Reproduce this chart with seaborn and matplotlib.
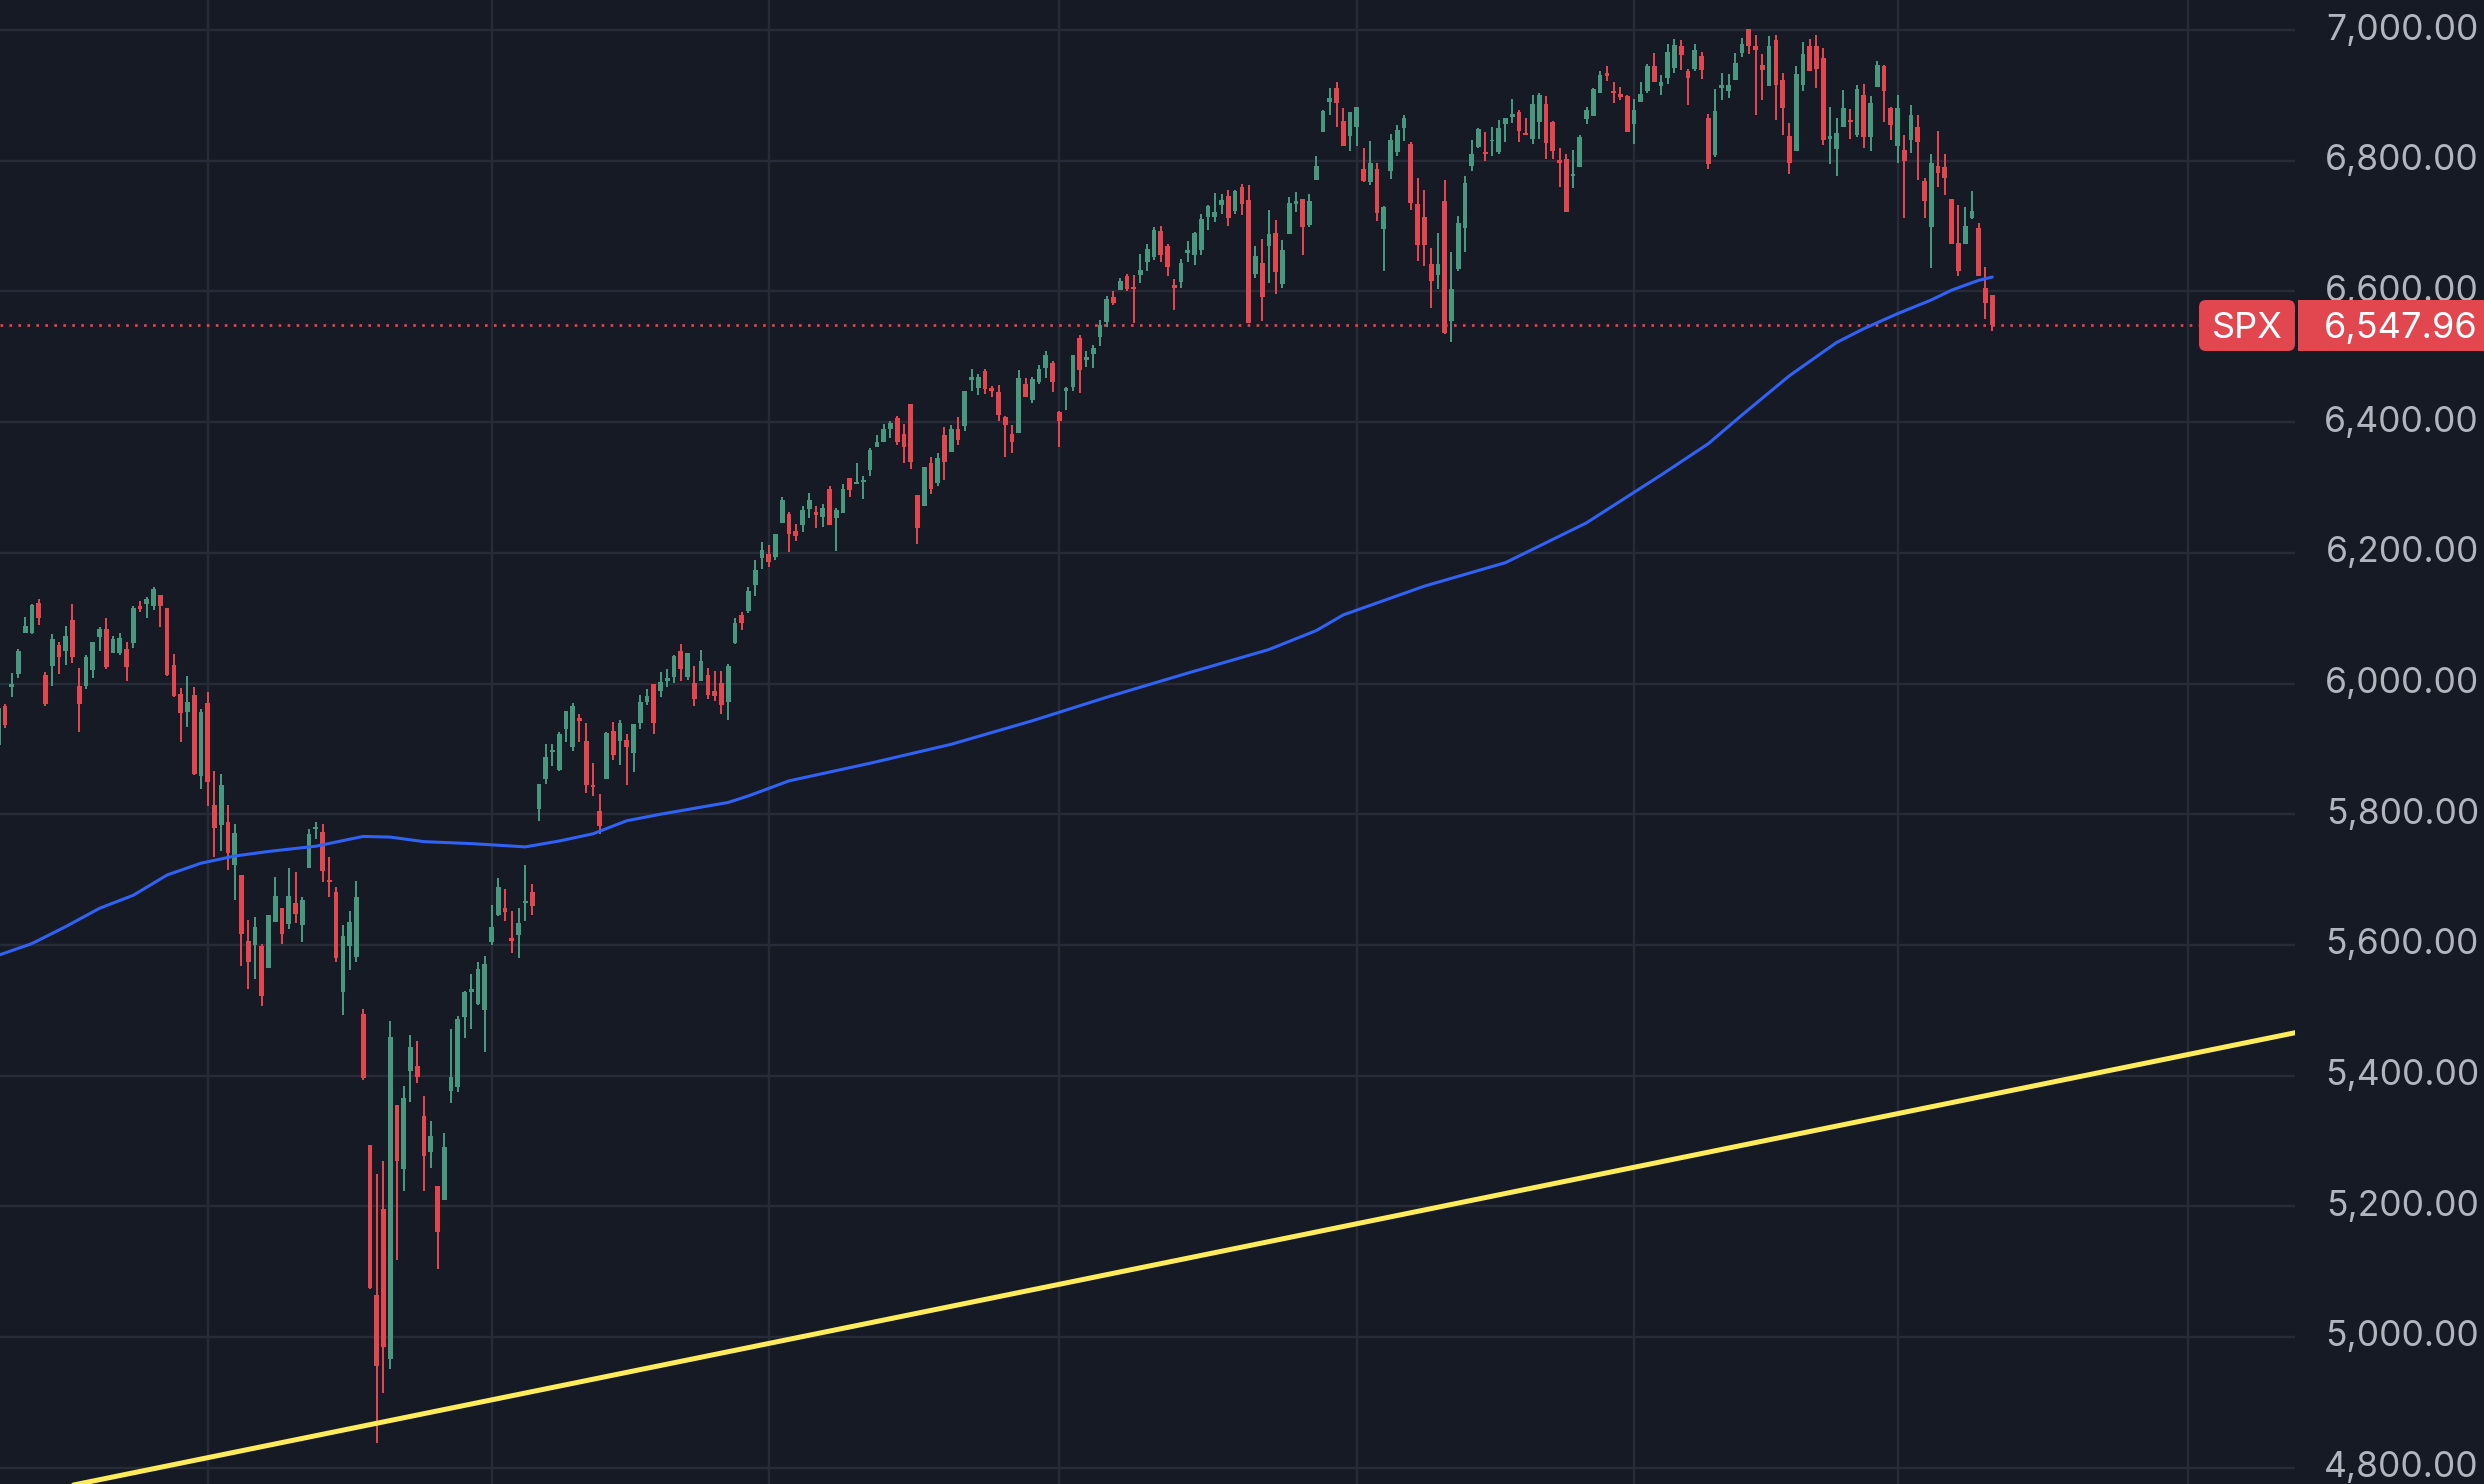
import numpy as np
import pandas as pd
import matplotlib
matplotlib.use("Agg")
import matplotlib.pyplot as plt
from matplotlib.patches import FancyBboxPatch, Rectangle
from matplotlib.transforms import IdentityTransform
from matplotlib.ticker import FuncFormatter
import seaborn as sns

#
# SPX daily candles, mid Jan 2025 -> Mar 20 2026
#

opens = [5906, 5966, 5995, 6015, 6078, 6077, 6123, 6013, 6027, 6059,
         6050, 6097, 5996, 5996, 6021, 6071, 6084, 6047, 6047, 6053,
         6062, 6119, 6122, 6118, 6135, 6115, 6028, 5984, 5957, 5982,
         5859, 5970, 5814, 5784, 5788, 5722, 5707, 5606, 5600, 5598,
         5565, 5635, 5656, 5632, 5664, 5630, 5717, 5777, 5773, 5699,
         5681, 5528, 5598, 5582, 5495, 5294, 5064, 5196, 4966, 5355,
         5257, 5407, 5415, 5338, 5283, 5231, 5209, 5377, 5382, 5490,
         5528, 5509, 5500, 5604, 5646, 5657, 5610, 5615, 5664, 5681,
         5808, 5854, 5895, 5868, 5930, 5903, 5947, 5912, 5845, 5805,
         5854, 5927, 5912, 5913, 5893, 5939, 5971, 6000, 5988, 6004,
         6010, 6050, 6010, 6001, 6004, 6013, 5989, 6001, 5971, 6062,
         6105, 6111, 6151, 6192, 6198, 6194, 6246, 6259, 6233, 6242,
         6267, 6263, 6255, 6297, 6254, 6261, 6314, 6305, 6309, 6327,
         6362, 6370, 6389, 6407, 6382, 6428, 6288, 6272, 6338, 6307,
         6380, 6355, 6390, 6394, 6464, 6452, 6479, 6452, 6446, 6408,
         6382, 6384, 6458, 6434, 6462, 6483, 6491, 6416, 6447, 6454,
         6529, 6495, 6504, 6531, 6554, 6592, 6602, 6624, 6607, 6625,
         6645, 6652, 6692, 6669, 6610, 6615, 6659, 6656, 6663, 6714,
         6714, 6732, 6746, 6723, 6760, 6740, 6627, 6644, 6670, 6689,
         6611, 6688, 6734, 6741, 6701, 6770, 6844, 6890, 6911, 6861,
         6838, 6851, 6788, 6768, 6787, 6695, 6785, 6814, 6850, 6826,
         6734, 6714, 6642, 6625, 6739, 6555, 6634, 6697, 6792, 6821,
         6813, 6830, 6813, 6857, 6867, 6875, 6842, 6833, 6860, 6887,
         6860, 6801, 6802, 6776, 6791, 6864, 6869, 6904, 6935, 6907,
         6902, 6899, 6857, 6890, 6906, 6945, 6915, 6927, 6942, 6976,
         6937, 6941, 6960, 6866, 6809, 6912, 6907, 6923, 6965, 7002,
         6976, 6947, 6915, 6985, 6924, 6838, 6815, 6916, 6975, 6976,
         6958, 6833, 6818, 6852, 6863, 6840, 6901, 6837, 6913, 6945,
         6880, 6823, 6816, 6831, 6851, 6769, 6699, 6792, 6790, 6741,
         6674, 6673, 6713, 6697, 6606, 6595]

highs = [5966, 5968, 6016, 6053, 6102, 6121, 6129, 6017, 6076, 6064,
         6088, 6122, 6023, 6044, 6064, 6086, 6101, 6073, 6077, 6063,
         6118, 6127, 6132, 6147, 6135, 6115, 6045, 5993, 6011, 5994,
         5961, 5987, 5866, 5861, 5814, 5785, 5707, 5638, 5643, 5601,
         5646, 5704, 5656, 5717, 5712, 5674, 5777, 5788, 5785, 5735,
         5688, 5630, 5652, 5698, 5502, 5294, 5250, 5269, 5484, 5355,
         5384, 5462, 5453, 5369, 5330, 5231, 5312, 5471, 5491, 5529,
         5555, 5574, 5583, 5661, 5702, 5685, 5652, 5656, 5722, 5693,
         5846, 5907, 5907, 5926, 5958, 5970, 5954, 5939, 5879, 5831,
         5926, 5941, 5944, 5923, 5938, 5982, 5992, 6000, 6017, 6022,
         6044, 6061, 6046, 6027, 6051, 6023, 6019, 6019, 6030, 6101,
         6109, 6147, 6189, 6216, 6212, 6229, 6285, 6262, 6244, 6271,
         6292, 6271, 6275, 6302, 6268, 6305, 6314, 6337, 6318, 6361,
         6381, 6397, 6402, 6409, 6397, 6428, 6288, 6331, 6347, 6352,
         6392, 6396, 6408, 6448, 6481, 6473, 6481, 6455, 6457, 6409,
         6395, 6480, 6467, 6469, 6487, 6509, 6493, 6417, 6453, 6503,
         6533, 6509, 6518, 6556, 6593, 6601, 6621, 6626, 6625, 6657,
         6673, 6698, 6700, 6673, 6619, 6650, 6677, 6691, 6718, 6732,
         6750, 6749, 6755, 6755, 6764, 6763, 6669, 6680, 6725, 6709,
         6679, 6744, 6752, 6741, 6749, 6807, 6878, 6911, 6920, 6880,
         6874, 6882, 6819, 6830, 6796, 6730, 6841, 6855, 6870, 6829,
         6774, 6755, 6667, 6690, 6771, 6661, 6715, 6777, 6832, 6850,
         6844, 6852, 6862, 6866, 6895, 6878, 6865, 6901, 6903, 6899,
         6861, 6819, 6811, 6816, 6839, 6882, 6911, 6937, 6945, 6920,
         6913, 6901, 6894, 6921, 6948, 6965, 6931, 6979, 6986, 6985,
         6940, 6979, 6967, 6872, 6910, 6935, 6933, 6965, 6988, 7002,
         6992, 6963, 6991, 6992, 6935, 6858, 6945, 6981, 6986, 6992,
         6973, 6882, 6866, 6908, 6879, 6916, 6917, 6899, 6953, 6947,
         6883, 6901, 6839, 6885, 6870, 6773, 6810, 6846, 6811, 6741,
         6733, 6729, 6754, 6704, 6637, 6595]

lows = [5898, 5932, 5980, 6009, 6077, 6076, 6090, 5965, 5996, 6015,
        6028, 6032, 5926, 5992, 6009, 6049, 6022, 6047, 6044, 6004,
        6054, 6110, 6101, 6113, 6086, 6011, 5980, 5911, 5934, 5860,
        5839, 5813, 5735, 5744, 5714, 5669, 5567, 5532, 5548, 5507,
        5565, 5635, 5601, 5625, 5634, 5605, 5717, 5762, 5696, 5674,
        5574, 5492, 5561, 5574, 5393, 5073, 4838, 4914, 4951, 5118,
        5224, 5360, 5389, 5224, 5259, 5104, 5209, 5358, 5375, 5458,
        5471, 5508, 5436, 5600, 5644, 5637, 5588, 5580, 5637, 5646,
        5789, 5846, 5874, 5866, 5910, 5897, 5911, 5833, 5828, 5770,
        5854, 5883, 5875, 5845, 5864, 5930, 5967, 5923, 5980, 5995,
        6001, 6004, 6005, 5965, 6004, 5976, 5974, 5954, 5944, 6060,
        6082, 6108, 6134, 6175, 6179, 6189, 6246, 6202, 6218, 6232,
        6253, 6238, 6240, 6243, 6203, 6261, 6286, 6305, 6282, 6318,
        6362, 6370, 6376, 6365, 6338, 6328, 6213, 6272, 6290, 6302,
        6311, 6355, 6365, 6386, 6447, 6441, 6443, 6439, 6401, 6346,
        6353, 6384, 6439, 6430, 6458, 6468, 6446, 6362, 6418, 6447,
        6445, 6485, 6483, 6517, 6546, 6579, 6602, 6601, 6552, 6613,
        6632, 6648, 6645, 6623, 6571, 6606, 6645, 6640, 6656, 6694,
        6707, 6719, 6700, 6718, 6717, 6551, 6621, 6555, 6613, 6596,
        6605, 6688, 6722, 6656, 6699, 6770, 6844, 6870, 6852, 6822,
        6815, 6822, 6768, 6763, 6708, 6632, 6772, 6807, 6830, 6725,
        6647, 6639, 6575, 6604, 6535, 6523, 6632, 6661, 6784, 6819,
        6800, 6807, 6810, 6828, 6858, 6828, 6839, 6825, 6834, 6802,
        6802, 6760, 6721, 6759, 6791, 6856, 6869, 6904, 6922, 6889,
        6893, 6844, 6825, 6890, 6904, 6920, 6900, 6917, 6935, 6939,
        6885, 6937, 6925, 6788, 6805, 6893, 6896, 6923, 6959, 6963,
        6870, 6893, 6915, 6862, 6839, 6780, 6815, 6906, 6938, 6912,
        6824, 6795, 6776, 6851, 6833, 6837, 6820, 6815, 6913, 6860,
        6832, 6797, 6712, 6812, 6771, 6713, 6636, 6760, 6747, 6672,
        6624, 6673, 6711, 6623, 6558, 6540]

closes = [5962, 5937, 5999, 6050, 6088, 6120, 6100, 5969, 6068, 6040,
          6073, 6040, 5969, 6040, 6063, 6084, 6025, 6068, 6070, 6026,
          6115, 6114, 6130, 6144, 6118, 6013, 5981, 5955, 5972, 5862,
          5956, 5850, 5779, 5845, 5740, 5771, 5616, 5574, 5627, 5522,
          5646, 5675, 5616, 5675, 5648, 5668, 5770, 5780, 5713, 5696,
          5580, 5614, 5635, 5674, 5397, 5075, 4955, 4984, 5459, 5269,
          5365, 5444, 5398, 5277, 5307, 5160, 5291, 5398, 5487, 5528,
          5532, 5563, 5571, 5627, 5689, 5650, 5606, 5634, 5667, 5660,
          5846, 5888, 5899, 5923, 5958, 5966, 5943, 5845, 5841, 5782,
          5924, 5890, 5940, 5903, 5938, 5971, 5981, 5940, 6002, 6008,
          6042, 6022, 6046, 5977, 6034, 5982, 5981, 5967, 6027, 6092,
          6092, 6142, 6174, 6205, 6186, 6229, 6281, 6229, 6225, 6265,
          6281, 6258, 6268, 6243, 6265, 6298, 6296, 6308, 6312, 6358,
          6369, 6389, 6398, 6369, 6362, 6339, 6238, 6331, 6298, 6345,
          6339, 6389, 6373, 6447, 6469, 6469, 6450, 6447, 6411, 6396,
          6370, 6468, 6439, 6466, 6481, 6503, 6461, 6401, 6452, 6503,
          6480, 6500, 6513, 6549, 6589, 6583, 6616, 6604, 6604, 6633,
          6665, 6694, 6656, 6638, 6606, 6643, 6663, 6689, 6711, 6731,
          6722, 6740, 6713, 6754, 6734, 6551, 6654, 6592, 6688, 6629,
          6663, 6735, 6738, 6699, 6738, 6792, 6876, 6896, 6889, 6822,
          6874, 6882, 6769, 6796, 6720, 6729, 6832, 6847, 6866, 6735,
          6671, 6671, 6616, 6642, 6537, 6604, 6705, 6766, 6811, 6849,
          6810, 6832, 6850, 6866, 6871, 6846, 6839, 6887, 6901, 6827,
          6815, 6797, 6721, 6779, 6836, 6878, 6910, 6931, 6929, 6903,
          6898, 6844, 6878, 6902, 6945, 6920, 6920, 6966, 6977, 6962,
          6926, 6969, 6939, 6795, 6876, 6916, 6916, 6949, 6978, 6976,
          6969, 6939, 6976, 6916, 6881, 6797, 6933, 6964, 6938, 6940,
          6832, 6838, 6842, 6880, 6860, 6910, 6837, 6889, 6947, 6907,
          6855, 6880, 6799, 6870, 6829, 6739, 6796, 6781, 6774, 6672,
          6632, 6700, 6723, 6624, 6583, 6547.96]

# 200-day moving average, read at a handful of bars
ma_idx = [0, 5, 10, 15, 20, 25, 30, 35, 40, 47, 54, 58, 63, 70, 78, 83, 88,
          93, 98, 103, 108, 111, 117, 129, 141, 153, 164, 176, 188, 195, 199,
          211, 223, 235, 246, 253, 258, 265, 272, 276, 281, 286, 289, 293, 295]
ma_val = [5584, 5602, 5628, 5656, 5676, 5707, 5725, 5736, 5743, 5751, 5766,
          5765, 5758, 5755, 5750, 5759, 5770, 5790, 5800, 5809, 5818, 5828,
          5851, 5878, 5907, 5943, 5979, 6016, 6052, 6081, 6105, 6149, 6185,
          6246, 6319, 6367, 6411, 6471, 6522, 6543, 6566, 6587, 6602, 6617,
          6622]

# support trendline (two anchors, runs to the right edge)
trend_idx = [0, 340]
trend_val = [4750, 5466]

# first trading day of each month shown by a vertical grid line
month_start_idx = [31, 73, 114, 157, 201, 242, 281, 324]
price_ticks = [4800, 5000, 5200, 5400, 5600, 5800, 6000, 6200, 6400, 6600, 6800, 7000]

symbol = 'SPX'
last_close = closes[-1]

#%%
#
# Styling
#

BG = '#161A25'
GRID = '#272B37'
GREEN = '#48987F'
RED = '#E2464F'
BLUE = '#2F62F5'
YELLOW = '#FFEC5A'
TXT = '#B2B5BE'

sns.set_theme(style='dark', rc={'axes.facecolor': BG, 'figure.facecolor': BG})
plt.rcParams['font.family'] = ['Inter', 'DejaVu Sans']

W, H = 2484, 1484
PLOT_R = 2295

df = pd.DataFrame({'open': opens, 'high': highs, 'low': lows, 'close': closes})
df['bar'] = np.arange(len(df))
cols = np.where(df['close'] >= df['open'], GREEN, RED)

fig = plt.figure(figsize=(W / 100, H / 100), dpi=100)
ax = fig.add_axes([0, 0, PLOT_R / W, 1])
ax.set_facecolor(BG)

ax.set_xlim(0.275, 339.8)
ax.set_ylim(4775, 7046)

# grid
ax.set_xticks(month_start_idx)
ax.set_yticks(price_ticks)
ax.grid(True, color=GRID, lw=1.7)
ax.set_axisbelow(True)
for s in ax.spines.values():
    s.set_visible(False)

# candles
ax.vlines(df['bar'], df['low'], df['high'], colors=cols, lw=1.45, zorder=3)
body_lo = df[['open', 'close']].min(axis=1)
body_h = (df['close'] - df['open']).abs().clip(lower=1.5)
ax.bar(df['bar'], body_h, bottom=body_lo, width=0.7, color=cols, lw=0, zorder=3)

# moving average + trendline
sns.lineplot(x=ma_idx, y=ma_val, ax=ax, color=BLUE, lw=2.2, zorder=4)
sns.lineplot(x=trend_idx, y=trend_val, ax=ax, color=YELLOW, lw=3.6, zorder=5)

# last price line
ax.axhline(last_close, color=RED, lw=1.9, ls=(0, (1, 2.4)), zorder=2)

# right price scale
ax.yaxis.tick_right()
ax.yaxis.set_major_formatter(FuncFormatter(lambda v, p: f'{v:,.2f}'))
ax.tick_params(axis='y', length=0, pad=(2479 - PLOT_R) * 0.72, labelsize=25.5,
               labelcolor=TXT)
for t in ax.get_yticklabels():
    t.set_horizontalalignment('right')
    t.set_verticalalignment('center')
ax.tick_params(axis='x', length=0, labelbottom=False)
ax.set_xlabel('')
ax.set_ylabel('')

# symbol / price tags
tag_y0 = H - 351
tag_h = 51
fig.patches.append(FancyBboxPatch((2199, tag_y0), PLOT_R - 2199, tag_h,
                                  boxstyle='round,pad=0,rounding_size=7',
                                  fc=RED, ec='none', transform=IdentityTransform(),
                                  figure=fig, zorder=10))
fig.patches.append(Rectangle((2298, tag_y0), W - 2298, tag_h, fc=RED, ec='none',
                             transform=IdentityTransform(), figure=fig, zorder=10))
fig.text(2247 / W, (tag_y0 + tag_h / 2) / H, symbol, color='white', fontsize=26,
         ha='center', va='center_baseline', zorder=11)
fig.text(2478 / W, (tag_y0 + tag_h / 2) / H, f'{last_close:,.2f}', color='white',
         fontsize=26, ha='right', va='center_baseline', zorder=11)

fig.savefig('out.png', dpi=100, facecolor=BG)
